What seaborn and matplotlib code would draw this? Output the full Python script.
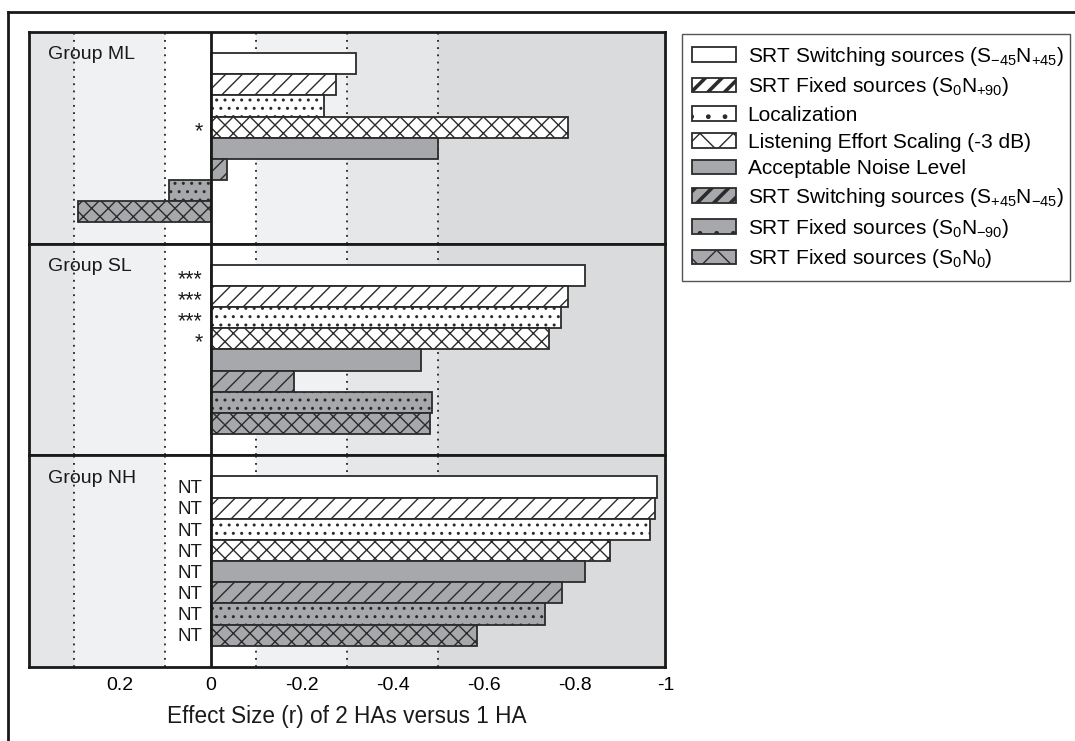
import numpy as np
import pandas as pd
import matplotlib
matplotlib.use("Agg")
import matplotlib.pyplot as plt
from matplotlib.patches import Patch, Rectangle
from matplotlib.lines import Line2D
from matplotlib.legend_handler import HandlerPatch
import seaborn as sns

# ---------------- data ----------------
measures = [
    "SRT Switching sources (S$_{-45}$N$_{+45}$)",
    "SRT Fixed sources (S$_{0}$N$_{+90}$)",
    "Localization",
    "Listening Effort Scaling (-3 dB)",
    "Acceptable Noise Level",
    "SRT Switching sources (S$_{+45}$N$_{-45}$)",
    "SRT Fixed sources (S$_{0}$N$_{-90}$)",
    "SRT Fixed sources (S$_{0}$N$_{0}$)",
]
groups = ["Group ML", "Group SL", "Group NH"]
ml_values = [-0.32, -0.275, -0.25, -0.785, -0.50, -0.035, 0.093, 0.292]
sl_values = [-0.824, -0.785, -0.771, -0.743, -0.462, -0.182, -0.486, -0.481]
nh_values = [-0.982, -0.976, -0.965, -0.877, -0.824, -0.772, -0.736, -0.586]
ml_marks = ["", "", "", "*", "", "", "", ""]
sl_marks = ["***", "***", "***", "*", "", "", "", ""]
nh_marks = ["NT", "NT", "NT", "NT", "NT", "NT", "NT", "NT"]
xticks = [0.2, 0, -0.2, -0.4, -0.6, -0.8, -1.0]
xtick_labels = ["0.2", "0", "-0.2", "-0.4", "-0.6", "-0.8", "-1"]
xlabel = "Effect Size (r) of 2 HAs versus 1 HA"

# ---------------- style ----------------
GREY = "#a7a8ab"
EDGE = "#2b2b2b"
fills = ["white", "white", "white", "white", GREY, GREY, GREY, GREY]
hatches = ["", "//", "..", "xx", "", "//", "..", "xx"]
legend_hatches = ["", "//", ".", "x", "", "//", ".", "x"]
legend_hatch_lw = [1.0, 2.6, 1.0, 1.0, 1.0, 2.6, 1.0, 1.0]
spans = [(0.4, 0.3, "#e5e6e8"), (0.3, 0.1, "#f0f1f2"), (0.1, -0.1, "#ffffff"),
         (-0.1, -0.3, "#f0f1f2"), (-0.3, -0.5, "#e6e7e9"), (-0.5, -1.0, "#dadbdd")]
dotted = [0.3, 0.1, -0.1, -0.3, -0.5]

plt.rcParams["font.family"] = ["Liberation Sans", "DejaVu Sans"]
plt.rcParams["mathtext.default"] = "regular"
plt.rcParams["hatch.linewidth"] = 1.0
plt.rcParams["hatch.color"] = EDGE

fig = plt.figure(figsize=(10.75, 7.41), dpi=100)
gs = fig.add_gridspec(3, 1, left=0.027, right=0.619, top=0.957, bottom=0.1, hspace=0)
axes = [fig.add_subplot(gs[i]) for i in range(3)]

all_vals = [ml_values, sl_values, nh_values]
all_marks = [ml_marks, sl_marks, nh_marks]

for k, ax in enumerate(axes):
    df = pd.DataFrame({"measure": measures, "value": all_vals[k]})
    sns.barplot(data=df, x="value", y="measure", hue="measure", order=measures,
                hue_order=measures, palette=dict(zip(measures, fills)), width=1.0,
                orient="h", errorbar=None, edgecolor=EDGE, linewidth=1.3,
                saturation=1, legend=False, ax=ax, zorder=2)
    for cont in ax.containers:
        for bar in cont:
            idx = int(round(bar.get_y() + bar.get_height() / 2))
            bar.set_hatch(hatches[idx])
            bar.set_facecolor(fills[idx])
    for a, b, c in spans:
        ax.axvspan(a, b, color=c, lw=0, zorder=0)
    for xv in dotted:
        ax.axvline(xv, color="#222222", lw=1.3, ls=(0, (1, 3)), zorder=1)
    ax.axvline(0, color="#1a1a1a", lw=2, zorder=4)

    ax.set_xlim(0.4, -1.0)
    ax.set_ylim(8.5, -1.5)
    ax.set_yticks([])
    ax.set_ylabel("")
    ax.set_xlabel("")
    ax.set_xticks(xticks)
    ax.set_xticklabels(xtick_labels)
    ax.tick_params(axis="x", length=0, pad=7, labelsize=14)
    if k < 2:
        ax.tick_params(labelbottom=False)
    for sp in ax.spines.values():
        sp.set_linewidth(2)
        sp.set_color("#1a1a1a")
        sp.set_zorder(5)

    ax.text(0.03, -0.42, groups[k], transform=ax.get_yaxis_transform(),
            ha="left", va="center", fontsize=14, color="#1a1a1a")
    for i, m in enumerate(all_marks[k]):
        if m:
            star = "*" in m
            ax.text(0.018, i + (0.2 if star else 0.08), m, ha="right", va="center",
                    fontsize=15.5 if star else 13.5, color="#1a1a1a", zorder=6)

axes[2].set_xlabel(xlabel, fontsize=16.3, labelpad=8, color="#1a1a1a")

# legend (heavier diagonal strokes in the key, as in the reference)
handles = []
for i in range(len(measures)):
    with plt.rc_context({"hatch.linewidth": legend_hatch_lw[i]}):
        handles.append(Patch(facecolor=fills[i], edgecolor=EDGE,
                             hatch=legend_hatches[i], linewidth=1.3))
    handles[-1]._key_hlw = legend_hatch_lw[i]


def make_key(legend, orig_handle, xdescent, ydescent, width, height, fontsize):
    with plt.rc_context({"hatch.linewidth": getattr(orig_handle, "_key_hlw", 1.0)}):
        return Rectangle((-xdescent, -ydescent), width, height)


leg = fig.legend(handles, measures, loc="upper left",
                 bbox_to_anchor=(0.6344, 0.618, 0.3609, 0.336), mode="expand",
                 frameon=True, fancybox=False, edgecolor="#555555", framealpha=1,
                 fontsize=15, handlelength=2.1, handleheight=0.7, handletextpad=0.55,
                 labelspacing=0.37, borderpad=0.5, borderaxespad=0,
                 handler_map={Patch: HandlerPatch(patch_func=make_key)})
leg.get_frame().set_linewidth(1.0)

# outer frame (top and left edges)
fig.add_artist(Line2D([0.0075, 1.0], [0.9838, 0.9838], transform=fig.transFigure,
                      color="#1a1a1a", lw=2))
fig.add_artist(Line2D([0.0075, 0.0075], [0.0, 0.9838], transform=fig.transFigure,
                      color="#1a1a1a", lw=2))

fig.savefig("out.png", dpi=100, facecolor="white")
